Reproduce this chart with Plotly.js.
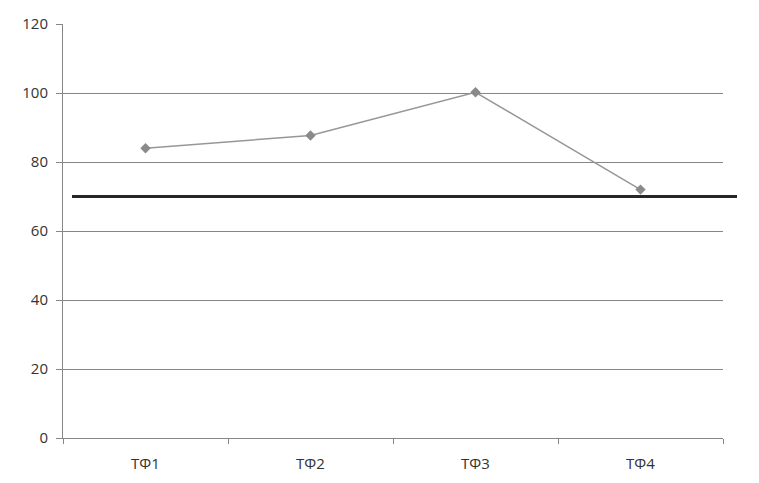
<!DOCTYPE html>
<html>
<head>
<meta charset="utf-8">
<script src="https://cdn.plot.ly/plotly-3.0.1.min.js"></script>
<style>
  html, body { margin: 0; padding: 0; background: #fff; }
  #chart { width: 759px; height: 483px; }
</style>
</head>
<body>
<div id="chart"></div>
<script>
const categories = ["ТФ1", "ТФ2", "ТФ3", "ТФ4"];
const values = [84, 87.7, 100.2, 72];
const threshold = [70];
const yTicks = [0, 20, 40, 60, 80, 100, 120];

const axisGray = "#868686";
const textColor = "#333333";

Plotly.newPlot("chart", [
  {
    type: "scatter",
    mode: "lines+markers",
    x: categories,
    y: values,
    line: { color: "#979797", width: 1.5 },
    marker: { symbol: "diamond", size: 8, color: "#8a8a8a" },
    hoverinfo: "skip"
  }
], {
  width: 759,
  height: 483,
  paper_bgcolor: "#fff",
  plot_bgcolor: "#fff",
  showlegend: false,
  margin: { l: 63, r: 36, t: 24, b: 45 },
  font: { family: "Open Sans, DejaVu Sans, sans-serif", size: 15, color: textColor },
  xaxis: {
    type: "category",
    range: [-0.5, 3.5],
    showline: true,
    linecolor: axisGray,
    linewidth: 1,
    showgrid: false,
    zeroline: false,
    ticks: "outside",
    tickson: "boundaries",
    ticklen: 5,
    tickcolor: axisGray,
    ticklabelstandoff: 12,
    tickfont: { size: 15, color: textColor }
  },
  yaxis: {
    range: [0, 120],
    tickvals: yTicks,
    showline: true,
    linecolor: axisGray,
    linewidth: 1,
    showgrid: true,
    gridcolor: axisGray,
    gridwidth: 1,
    zeroline: false,
    ticks: "outside",
    ticklen: 6,
    tickcolor: axisGray,
    ticklabelstandoff: 5,
    tickfont: { size: 15, color: textColor }
  },
  shapes: threshold.map(v => ({
    type: "line",
    xref: "paper",
    yref: "y",
    x0: 9 / 660,
    x1: 1 + 14 / 660,
    y0: v,
    y1: v,
    line: { color: "#262626", width: 3 }
  }))
}, {
  displayModeBar: false,
  staticPlot: true
});
</script>
</body>
</html>
